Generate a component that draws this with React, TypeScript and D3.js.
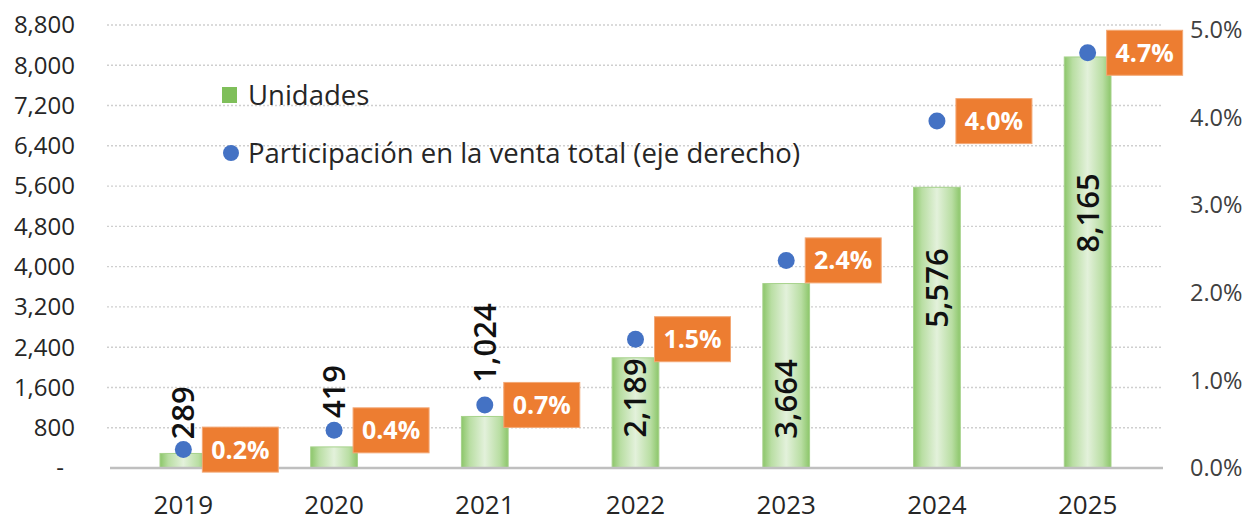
import React from 'react';
import * as d3 from 'd3';

const YEARS = ['2019', '2020', '2021', '2022', '2023', '2024', '2025'];
const UNITS = [289, 419, 1024, 2189, 3664, 5576, 8165];
const SHARE = [0.0021, 0.0043, 0.0072, 0.0147, 0.0237, 0.0396, 0.0474];
const LEFT_TICKS = [0, 800, 1600, 2400, 3200, 4000, 4800, 5600, 6400, 7200, 8000, 8800];
const RIGHT_TICKS = [0, 0.01, 0.02, 0.03, 0.04, 0.05];
// manual placement of the unit data labels (label centre, in units of the left axis)
const UNIT_LABEL_AT = [1093, 1520, 2483, 1391, 1371, 3576, 5067];
const LEGEND = ['Unidades', 'Participación en la venta total (eje derecho)'];

const W = 1249;
const H = 524;
const FONT = "'Open Sans', 'Noto Sans', sans-serif";

export default function App() {
  const x = d3.scaleBand<string>().domain(YEARS).range([108, 1163]).paddingInner(0.69).paddingOuter(0.345);
  const yL = d3.scaleLinear().domain([0, 8800]).range([468, 25]);
  const yR = d3.scaleLinear().domain([0, 0.05]).range([468, 30]);
  const fmtL = (v: number) => (v === 0 ? '-' : d3.format(',')(v));
  const fmtR = d3.format('.1%');
  const bw = x.bandwidth();

  return (
    <svg width={W} height={H} style={{ position: 'absolute', left: 0, top: 0, display: 'block', background: '#fff' }} fontFamily={FONT}>
      <defs>
        <linearGradient id="barGrad" x1="0" x2="1" y1="0" y2="0">
          <stop offset="0%" stopColor="#8cc66a" />
          <stop offset="18%" stopColor="#b9dea3" />
          <stop offset="50%" stopColor="#e3f1db" />
          <stop offset="82%" stopColor="#b9dea3" />
          <stop offset="100%" stopColor="#8cc66a" />
        </linearGradient>
      </defs>
      {/* gridlines */}
      {LEFT_TICKS.filter((t) => t > 0).map((t) => (
        <line key={t} x1={107} x2={1163} y1={yL(t)} y2={yL(t)} stroke="#cfcfcf" strokeWidth={1.4} strokeDasharray="2,2" />
      ))}
      {/* bars */}
      {UNITS.map((v, i) => (
        <rect key={YEARS[i]} x={x(YEARS[i])!} y={yL(v)} width={bw} height={yL(0) - yL(v)} fill="url(#barGrad)" stroke="#a6d28b" strokeWidth={1} />
      ))}
      {/* baseline */}
      <line x1={110} x2={1163} y1={yL(0)} y2={yL(0)} stroke="#bfbfbf" strokeWidth={2.5} />
      {/* left axis labels */}
      {LEFT_TICKS.map((t) => (
        <text key={t} x={t === 0 ? 64 : 75} y={yL(t)} dy="0.35em" textAnchor="end" fontSize={24} fill="#262626">
          {fmtL(t)}
        </text>
      ))}
      {/* right axis labels */}
      {RIGHT_TICKS.map((t) => (
        <text key={t} x={1190} y={yR(t)} dy="0.35em" textAnchor="start" fontSize={23.5} fill="#404040">
          {fmtR(t)}
        </text>
      ))}
      {/* x labels */}
      {YEARS.map((yr) => (
        <text key={yr} x={x(yr)! + bw / 2} y={505} dy="0.35em" textAnchor="middle" fontSize={26} fill="#262626">
          {yr}
        </text>
      ))}
      {/* unit labels */}
      {UNITS.map((v, i) => {
        const cx = x(YEARS[i])! + bw / 2;
        const cy = yL(UNIT_LABEL_AT[i]);
        return (
          <text key={'u' + i} transform={`translate(${cx},${cy}) rotate(-90)`} dy="0.35em" textAnchor="middle" fontSize={31} fontWeight={600} fill="#111">
            {d3.format(',')(v)}
          </text>
        );
      })}
      {/* share dots + boxes */}
      {SHARE.map((s, i) => {
        const cx = x(YEARS[i])! + bw / 2;
        const cy = yR(s);
        return (
          <g key={'s' + i}>
            <circle cx={cx} cy={cy} r={8.5} fill="#4472c4" />
            <rect x={cx + 19} y={cy - 22.5} width={76} height={45} fill="#ed7d31" stroke="#f3a875" strokeWidth={1} />
            <text x={cx + 19 + 38} y={cy} dy="0.36em" textAnchor="middle" fontSize={25} fontWeight={700} fill="#fff">
              {fmtR(s)}
            </text>
          </g>
        );
      })}
      {/* legend */}
      <rect x={222} y={87} width={15} height={16} fill="#7fbf5a" />
      <text x={248} y={95} dy="0.35em" fontSize={27.5} fill="#262626">{LEGEND[0]}</text>
      <circle cx={231} cy={153} r={8} fill="#4472c4" />
      <text x={248} y={153} dy="0.35em" fontSize={27.5} fill="#262626">{LEGEND[1]}</text>
    </svg>
  );
}
